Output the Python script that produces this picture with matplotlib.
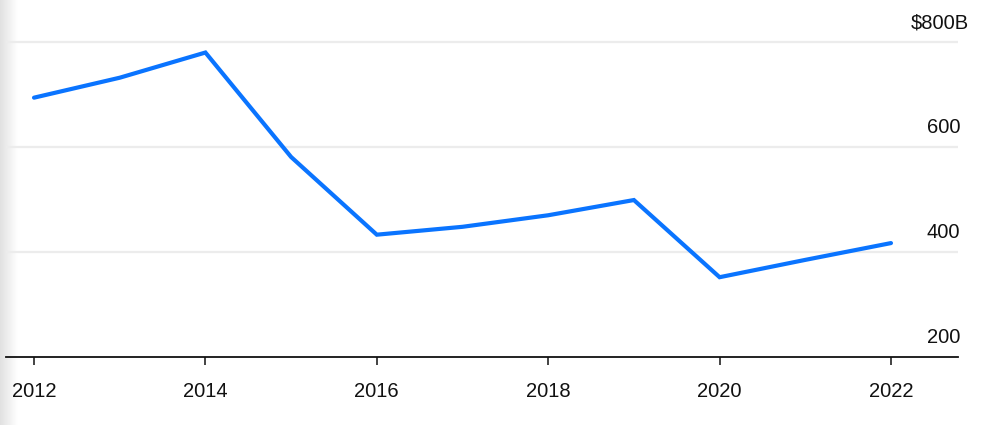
import matplotlib
matplotlib.use("Agg")
import matplotlib.pyplot as plt
import numpy as np

plt.rcParams["font.family"] = ["Liberation Sans", "DejaVu Sans"]

years = [2012, 2013, 2014, 2015, 2016, 2017, 2018, 2019, 2020, 2021, 2022]
values = [694, 732, 780, 581, 433, 448, 470, 499, 352, 385, 417]
x_ticks = [2012, 2014, 2016, 2018, 2020, 2022]
y_ticks = [200, 400, 600, 800]
y_labels = ["200", "400", "600", "$800B"]

W, H = 992, 425
fig = plt.figure(figsize=(W / 100, H / 100), dpi=100)

# soft grey shade on the left edge
shade = fig.add_axes([0, 0, 18 / W, 1])
grad = np.linspace(0.88, 1.0, 64)[None, :]
shade.imshow(grad, cmap="gray", vmin=0, vmax=1, aspect="auto", extent=[0, 1, 0, 1])
shade.set_axis_off()

ax = fig.add_axes([6 / W, (H - 357) / H, (958 - 6) / W, 347 / H])
ax.patch.set_alpha(0)
ax.set_xlim(2011.673, 2022.782)
ax.set_ylim(200, 861)

for v in y_ticks[1:]:
    ax.axhline(v, color="#ececec", linewidth=1.6, zorder=0)

ax.plot(years, values, color="#0a74ff", linewidth=3.0, solid_capstyle="round",
        solid_joinstyle="miter", zorder=3)

for s in ["top", "right", "left"]:
    ax.spines[s].set_visible(False)
ax.spines["bottom"].set_color("#111111")
ax.spines["bottom"].set_linewidth(1.3)

ax.set_xticks(x_ticks)
ax.set_xticklabels([str(y) for y in x_ticks], fontsize=14.5, color="#111111")
ax.tick_params(axis="x", length=6, width=1.1, color="#111111", pad=12)
ax.set_yticks([])

for v, lab in zip(y_ticks, y_labels):
    xpos = 969 / W if lab.startswith("$") else 960 / W
    ypos = 1 - ((357 - (v - 200) / 200 * 105) - 19.5) / H
    fig.text(xpos, ypos, lab, ha="right", va="center", fontsize=14.5, color="#111111")

fig.savefig("out.png", dpi=100)
